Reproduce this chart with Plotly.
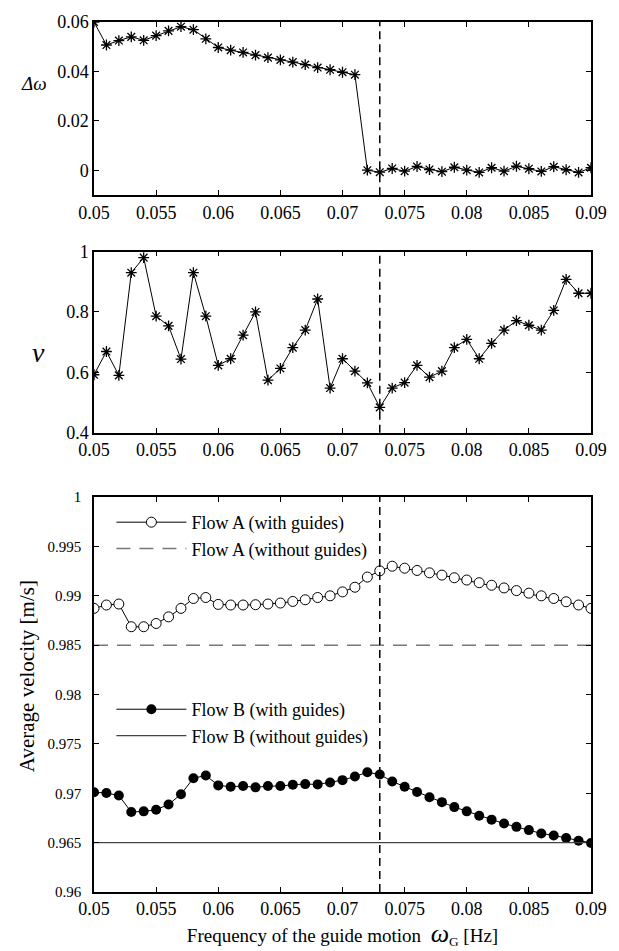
import plotly.graph_objects as go
from plotly.subplots import make_subplots

freq = [round(0.05 + 0.001 * i, 3) for i in range(41)]

delta_omega = [0.0600, 0.0507, 0.0525, 0.0540, 0.0526, 0.0545, 0.0564, 0.0581, 0.0569, 0.0532,
               0.0497, 0.0486, 0.0477, 0.0466, 0.0456, 0.0447, 0.0438, 0.0428, 0.0416, 0.0407,
               0.0397, 0.0387, 0.0001, -0.0007, 0.0008, -0.0003, 0.0016, 0.0004, -0.0005, 0.0013,
               0.0001, -0.0008, 0.0011, -0.0003, 0.0017, 0.0007, -0.0004, 0.0015, 0.0003, -0.0008,
               0.0011]

nu = [0.592, 0.669, 0.590, 0.930, 0.980, 0.786, 0.754, 0.644, 0.930, 0.786,
      0.623, 0.645, 0.723, 0.800, 0.574, 0.613, 0.682, 0.740, 0.843, 0.548,
      0.645, 0.604, 0.565, 0.484, 0.548, 0.566, 0.623, 0.584, 0.604, 0.682,
      0.709, 0.645, 0.696, 0.740, 0.771, 0.756, 0.740, 0.805, 0.908, 0.862,
      0.862]

flow_a_with = [0.98873, 0.98907, 0.98917, 0.98687, 0.98687, 0.98720, 0.98787, 0.98873, 0.98973, 0.98983,
               0.98913, 0.98907, 0.98907, 0.98910, 0.98917, 0.98927, 0.98943, 0.98960, 0.98983, 0.99000,
               0.99040, 0.99087, 0.99190, 0.99253, 0.99300, 0.99280, 0.99257, 0.99233, 0.99210, 0.99183,
               0.99160, 0.99133, 0.99107, 0.99080, 0.99053, 0.99027, 0.99000, 0.98973, 0.98940, 0.98907,
               0.98873]

flow_b_with = [0.97010, 0.97003, 0.96977, 0.96810, 0.96817, 0.96833, 0.96887, 0.96990, 0.97153, 0.97180,
               0.97080, 0.97067, 0.97073, 0.97060, 0.97073, 0.97073, 0.97087, 0.97093, 0.97090, 0.97110,
               0.97133, 0.97170, 0.97213, 0.97190, 0.97120, 0.97067, 0.97013, 0.96960, 0.96910, 0.96860,
               0.96817, 0.96773, 0.96733, 0.96693, 0.96660, 0.96627, 0.96593, 0.96573, 0.96547, 0.96520,
               0.96497]

flow_a_without = 0.985
flow_b_without = 0.965
crit_freq = 0.073

x_ticks = [0.05, 0.055, 0.06, 0.065, 0.07, 0.075, 0.08, 0.085, 0.09]
x_ticktext = ["0.05", "0.055", "0.06", "0.065", "0.07", "0.075", "0.08", "0.085", "0.09"]
y1_ticks = [0, 0.02, 0.04, 0.06]
y1_ticktext = ["0", "0.02", "0.04", "0.06"]
y2_ticks = [0.4, 0.6, 0.8, 1.0]
y2_ticktext = ["0.4", "0.6", "0.8", "1"]
y3_ticks = [0.96, 0.965, 0.97, 0.975, 0.98, 0.985, 0.99, 0.995, 1.0]
y3_ticktext = ["0.96", "0.965", "0.97", "0.975", "0.98", "0.985", "0.99", "0.995", "1"]

FONT = "Liberation Serif, Times New Roman, DejaVu Serif, serif"

fig = make_subplots(rows=3, cols=1)

fig.add_trace(go.Scatter(x=freq, y=delta_omega, mode="lines+markers",
                         line=dict(color="black", width=1),
                         marker=dict(symbol="asterisk-open", size=9, line=dict(color="#222", width=1.3)),
                         showlegend=False), row=1, col=1)
fig.add_trace(go.Scatter(x=freq, y=nu, mode="lines+markers",
                         line=dict(color="black", width=1),
                         marker=dict(symbol="asterisk-open", size=9, line=dict(color="#222", width=1.3)),
                         showlegend=False), row=2, col=1)

ends = [freq[0], freq[-1]]
fig.add_trace(go.Scatter(x=freq, y=flow_a_with, mode="lines+markers", name="Flow A (with guides)",
                         line=dict(color="black", width=1),
                         marker=dict(symbol="circle", size=10, color="white", line=dict(color="black", width=1)),
                         legend="legend"), row=3, col=1)
fig.add_trace(go.Scatter(x=ends, y=[flow_a_without] * 2, mode="lines", name="Flow A (without guides)",
                         line=dict(color="#777777", width=1.5, dash="14px,9px"),
                         legend="legend"), row=3, col=1)
fig.add_trace(go.Scatter(x=freq, y=flow_b_with, mode="lines+markers", name="Flow B (with guides)",
                         line=dict(color="black", width=1),
                         marker=dict(symbol="circle", size=10, color="black"),
                         legend="legend2"), row=3, col=1)
fig.add_trace(go.Scatter(x=ends, y=[flow_b_without] * 2, mode="lines", name="Flow B (without guides)",
                         line=dict(color="#444444", width=1.2),
                         legend="legend2"), row=3, col=1)

axis_common = dict(showline=True, linecolor="black", linewidth=1.5, mirror="ticks",
                   ticks="inside", ticklen=5, tickcolor="black", tickwidth=1,
                   showgrid=False, zeroline=False)

for r in (1, 2, 3):
    fig.update_xaxes(range=[0.05, 0.09], tickvals=x_ticks, ticktext=x_ticktext, row=r, col=1,
                     tickfont=dict(family=FONT, size=18, color="black"), **axis_common)

fig.update_yaxes(range=[-0.01, 0.06], tickvals=y1_ticks, ticktext=y1_ticktext, row=1, col=1,
                 tickfont=dict(family=FONT, size=18, color="black"), **axis_common)
fig.update_yaxes(range=[0.4, 1.0], tickvals=y2_ticks, ticktext=y2_ticktext, row=2, col=1,
                 tickfont=dict(family=FONT, size=18, color="black"), **axis_common)
fig.update_yaxes(range=[0.96, 1.0], tickvals=y3_ticks, ticktext=y3_ticktext, row=3, col=1,
                 tickfont=dict(family=FONT, size=15, color="black"), ticklabelstandoff=8, **axis_common)

fig.update_layout(
    xaxis=dict(domain=[0, 1]), xaxis2=dict(domain=[0, 1]), xaxis3=dict(domain=[0, 1]),
    yaxis=dict(domain=[0.8009, 1.0]),
    yaxis2=dict(domain=[0.5279, 0.7361]),
    yaxis3=dict(domain=[0.0, 0.4539]),
)

fig.update_xaxes(title=dict(text="Frequency of the guide motion  <span style='font-size:26px'><i>ω</i></span><sub>G</sub> [Hz]",
                            font=dict(family=FONT, size=19, color="black"), standoff=6), row=3, col=1)

for yref in ("y", "y2", "y3"):
    fig.add_shape(type="line", xref="x" if yref == "y" else "x" + yref[1:], yref=yref + " domain",
                  x0=crit_freq, x1=crit_freq, y0=0, y1=1,
                  line=dict(color="black", width=1.5, dash="8px,5px"))

fig.add_annotation(text="<i>Δω</i>", xref="paper", yref="paper", x=-0.120, y=0.9295,
                   xanchor="center", yanchor="middle",
                   showarrow=False, font=dict(family=FONT, size=19, color="black"))
fig.add_annotation(text="<i>ν</i>", xref="paper", yref="paper", x=-0.112, y=0.620,
                   xanchor="center", yanchor="middle",
                   showarrow=False, font=dict(family=FONT, size=28, color="black"))
fig.add_annotation(text="Average velocity [m/s]", xref="paper", yref="paper", x=-0.135, y=0.248,
                   xanchor="center", yanchor="middle",
                   textangle=-90, showarrow=False, font=dict(family=FONT, size=21, color="black"))

fig.update_layout(
    width=619, height=951,
    margin=dict(l=94, r=18, t=13, b=59),
    paper_bgcolor="white", plot_bgcolor="white",
    font=dict(family=FONT, size=18, color="black"),
    legend=dict(x=0.035, y=0.446, xanchor="left", yanchor="top", bgcolor="rgba(0,0,0,0)",
                font=dict(family=FONT, size=18, color="black"), tracegroupgap=0, itemwidth=70),
    legend2=dict(x=0.035, y=0.231, xanchor="left", yanchor="top", bgcolor="rgba(0,0,0,0)",
                 font=dict(family=FONT, size=18, color="black"), tracegroupgap=0, itemwidth=70),
)

fig.write_html("out.html")
